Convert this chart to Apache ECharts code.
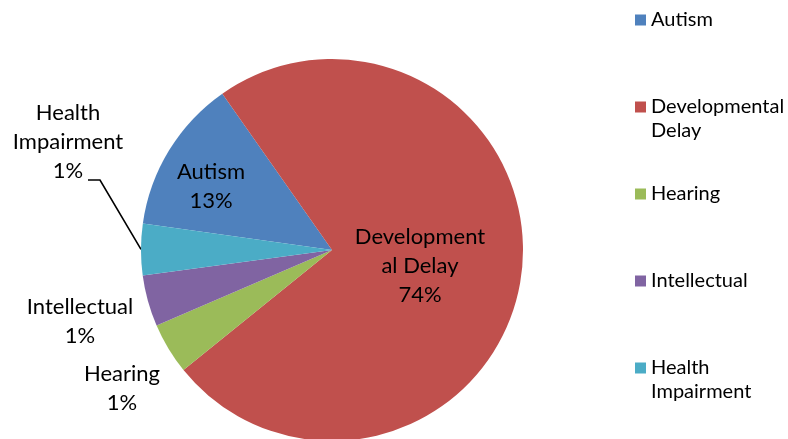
<!DOCTYPE html>
<html><head><meta charset="utf-8">
<script src="https://cdn.jsdelivr.net/npm/echarts@6/dist/echarts.min.js"></script>
<style>html,body{margin:0;padding:0;background:#fff}#c{width:788px;height:439px}</style>
</head><body><div id="c"></div>
<script>
// ---- data ----
const categories = ['Autism', 'Developmental Delay', 'Hearing', 'Intellectual', 'Health Impairment'];
const counts = [3, 17, 1, 1, 1];
const pctLabels = ['13%', '74%', '1%', '1%', '1%'];
const sliceLabelNames = ['Autism', 'Development\nal Delay', 'Hearing', 'Intellectual', 'Health\nImpairment'];
const legendNames = ['Autism', 'Developmental\nDelay', 'Hearing', 'Intellectual', 'Health\nImpairment'];

// ---- style / layout ----
const colors = ['#4F81BD', '#C0504D', '#9BBB59', '#8064A2', '#4BACC6'];
const FONT = 'Lato';
const labelPlace = [[211, 186], [420, 266], [122, 388], [80, 321], [68, 142]];

const chart = echarts.init(document.getElementById('c'), null, { renderer: 'canvas' });

const data = categories.map((n, i) => ({
  name: n,
  value: counts[i],
  itemStyle: { color: colors[i] },
  label: { position: i < 2 ? 'inside' : 'outside' },
  labelLine: { show: i === 4, lineStyle: { color: '#000', width: 1.6, opacity: 1 } }
}));

chart.setOption({
  animation: false,
  backgroundColor: '#fff',
  legend: {
    orient: 'vertical',
    left: 635,
    top: -16,
    padding: 0,
    itemGap: 15,
    itemWidth: 11,
    itemHeight: 11,
    icon: 'rect',
    selectedMode: false,
    data: categories,
    formatter: function (name) {
      const t = legendNames[categories.indexOf(name)];
      return '\n' + t + (t.indexOf('\n') < 0 ? '\n' : '');
    },
    textStyle: { fontFamily: FONT, fontSize: 20, lineHeight: 24, color: '#000', padding: [0, 0, 0, 0] }
  },
  series: [{
    type: 'pie',
    center: [332, 250],
    radius: 191,
    startAngle: 172,
    clockwise: true,
    avoidLabelOverlap: false,
    data: data,
    label: {
      show: true,
      color: '#000',
      fontFamily: FONT,
      fontSize: 22,
      lineHeight: 29,
      align: 'center',
      formatter: function (p) {
        return sliceLabelNames[p.dataIndex] + '\n' + pctLabels[p.dataIndex];
      }
    },
    labelLine: { lineStyle: { color: '#000', width: 1.6 }, length: 10, length2: 10 },
    labelLayout: function (p) {
      const pos = labelPlace[p.dataIndex];
      const out = { x: pos[0], y: pos[1], align: 'center', verticalAlign: 'middle', hideOverlap: false };
      if (p.dataIndex === 4 && p.labelLinePoints) {
        const a = p.labelLinePoints[0];
        out.labelLinePoints = [a, [100, 180], [88, 180]];
      }
      return out;
    },
    emphasis: { disabled: true }
  }]
});
</script></body></html>
